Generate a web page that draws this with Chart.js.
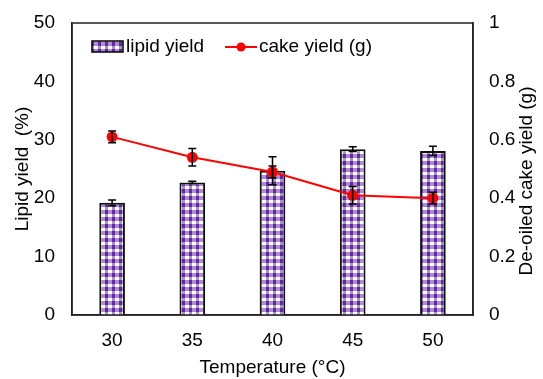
<!DOCTYPE html>
<html>
<head>
<meta charset="utf-8">
<script src="https://cdn.jsdelivr.net/npm/chart.js@4"></script>
<style>
  html, body { margin: 0; padding: 0; background: #fff; }
  #wrap { width: 543px; height: 379px; }
</style>
</head>
<body>
<div id="wrap"><canvas id="chart" width="543" height="379"></canvas></div>
<script>
const temperatures = ["30", "35", "40", "45", "50"];
const lipidYield = [19.2, 22.7, 24.7, 28.4, 28.1];
const lipidErr = [0.5, 0.2, 2.4, 0.4, 0.8];
const cakeYield = [0.61, 0.54, 0.49, 0.41, 0.40];
const cakeErr = [0.02, 0.03, 0.02, 0.03, 0.02];

// gingham fill like the excel pattern
function makePattern() {
  const c = document.createElement("canvas");
  c.width = 7;
  c.height = 7;
  const g = c.getContext("2d");
  g.fillStyle = "#ab8dd0";
  g.fillRect(0, 0, 7, 7);
  g.fillStyle = "#6328a2";
  g.fillRect(0, 0, 3, 4);
  g.fillStyle = "#ffffff";
  g.fillRect(3, 4, 4, 3);
  return g.createPattern(c, "repeat");
}
const purple = makePattern();
const fontFamily = "'Liberation Sans', Arial, sans-serif";

const frameAndBars = {
  id: "frameAndBars",
  afterDatasetsDraw(chart) {
    const ctx = chart.ctx;
    const a = chart.chartArea;
    ctx.save();
    ctx.strokeStyle = "#000";
    ctx.lineWidth = 1.5;
    // error bars
    const drawErr = (dsIdx, vals, errs, scale) => {
      const meta = chart.getDatasetMeta(dsIdx);
      meta.data.forEach((el, i) => {
        const x = el.x;
        const yTop = scale.getPixelForValue(vals[i] + errs[i]);
        const yBot = scale.getPixelForValue(vals[i] - errs[i]);
        ctx.beginPath();
        ctx.moveTo(x, yTop); ctx.lineTo(x, yBot);
        ctx.moveTo(x - 4, yTop); ctx.lineTo(x + 4, yTop);
        ctx.moveTo(x - 4, yBot); ctx.lineTo(x + 4, yBot);
        ctx.stroke();
      });
    };
    drawErr(1, lipidYield, lipidErr, chart.scales.y);
    drawErr(0, cakeYield, cakeErr, chart.scales.y1);
    // frame
    ctx.strokeStyle = "#222";
    ctx.strokeRect(a.left, a.top, a.right - a.left, a.bottom - a.top);
    // legend
    ctx.font = "19px " + fontFamily;
    ctx.textBaseline = "middle";
    const ly = 47;
    ctx.fillStyle = purple;
    ctx.fillRect(92, 41, 31, 11);
    ctx.lineWidth = 1.5;
    ctx.strokeStyle = "#000";
    ctx.strokeRect(92, 41, 31, 11);
    ctx.fillStyle = "#000";
    ctx.fillText(chart.data.datasets[1].label, 126, ly);
    ctx.strokeStyle = "#ff0000";
    ctx.lineWidth = 2;
    ctx.beginPath();
    ctx.moveTo(225, ly); ctx.lineTo(257, ly);
    ctx.stroke();
    ctx.fillStyle = "#ff0000";
    ctx.beginPath();
    ctx.arc(241, ly, 4.5, 0, Math.PI * 2);
    ctx.fill();
    ctx.fillStyle = "#000";
    ctx.fillText(chart.data.datasets[0].label, 259, ly);
    // right axis title reads bottom-to-top
    ctx.save();
    ctx.translate(527, 181);
    ctx.rotate(-Math.PI / 2);
    ctx.textAlign = "center";
    ctx.font = "19px " + fontFamily;
    ctx.fillText("De-oiled cake yield (g)", 0, 0);
    ctx.restore();
    ctx.restore();
  }
};

const tickFont = { family: fontFamily, size: 19 };
const titleFont = { family: fontFamily, size: 19 };

function noPad(s) {
  s.paddingTop = 0;
  s.paddingBottom = 0;
  s.paddingLeft = 0;
  s.paddingRight = 0;
}

new Chart(document.getElementById("chart").getContext("2d"), {
  type: "bar",
  data: {
    labels: temperatures,
    datasets: [
      {
        type: "line",
        label: "cake yield (g)",
        data: cakeYield,
        yAxisID: "y1",
        borderColor: "#ff0000",
        backgroundColor: "#ff0000",
        borderWidth: 2,
        pointRadius: 5.5,
        pointBorderWidth: 0,
        tension: 0,
        order: 1
      },
      {
        type: "bar",
        label: "lipid yield",
        data: lipidYield,
        yAxisID: "y",
        backgroundColor: purple,
        borderColor: "#111",
        borderWidth: 2,
        barPercentage: 0.64,
        categoryPercentage: 0.5,
        order: 2
      }
    ]
  },
  options: {
    responsive: false,
    animation: false,
    layout: { padding: { top: 23, left: 0, right: 0, bottom: 0 } },
    plugins: { legend: { display: false }, tooltip: { enabled: false } },
    scales: {
      x: {
        grid: { display: false, drawTicks: false },
        border: { display: true, color: "#222", width: 1.5 },
        ticks: { color: "#000", font: tickFont, padding: 14 },
        title: { display: true, text: "Temperature (°C)", color: "#000", font: titleFont, padding: 0 },
        afterFit(s) { s.height = 64; noPad(s); }
      },
      y: {
        position: "left",
        min: 0, max: 50,
        grid: { display: false, drawTicks: false },
        border: { display: true, color: "#222", width: 1.5 },
        ticks: { stepSize: 10, color: "#000", font: tickFont, padding: 17 },
        title: { display: true, text: "Lipid yield  (%)", color: "#000", font: titleFont, padding: { top: 11, bottom: 0 } },
        afterFit(s) { s.width = 72; noPad(s); }
      },
      y1: {
        position: "right",
        min: 0, max: 1,
        grid: { display: false, drawTicks: false },
        border: { display: true, color: "#222", width: 1.5 },
        ticks: {
          stepSize: 0.2, color: "#000", font: tickFont, padding: 16,
          callback: (v) => String(Number(v.toFixed(1)))
        },
        afterFit(s) { s.width = 70; noPad(s); }
      }
    }
  },
  plugins: [frameAndBars]
});
</script>
</body>
</html>
